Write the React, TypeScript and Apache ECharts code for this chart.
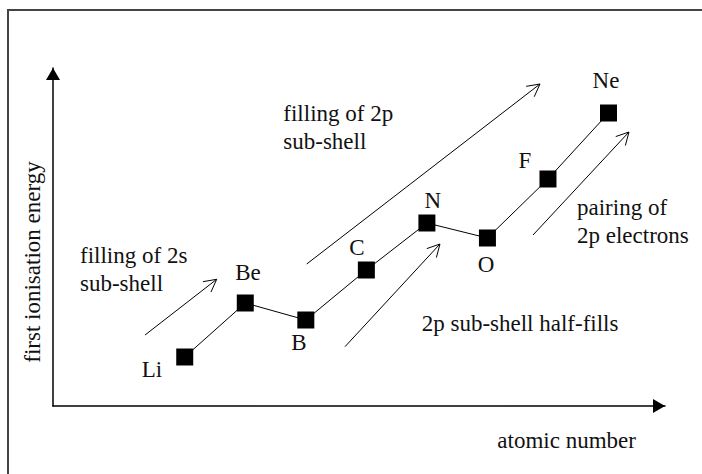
import React, { useEffect, useRef } from "react";
import * as echarts from "echarts";

// Data (atomic number vs. relative first ionisation energy, arbitrary units)
const elements = ["Li", "Be", "B", "C", "N", "O", "F", "Ne"];
const atomicNumbers = [3, 4, 5, 6, 7, 8, 9, 10];
const energyValues = [49, 103, 86, 136, 183, 168, 227, 293];

// Annotation arrows in data coordinates
const arrowStartX = [2.344, 5.015, 5.647, 8.753];
const arrowStartY = [71, 142, 59.3, 171];
const arrowEndX = [3.528, 8.868, 7.216, 10.338];
const arrowEndY = [126.7, 322, 162, 274];

// Label placement (pixel offsets from point)
const labelOffsets = [
  [-32.7, 12],
  [2.7, -31],
  [-7, 22],
  [-9.4, -22.4],
  [6, -22.7],
  [-1.4, 26.3],
  [-23, -18.4],
  [-2.5, -32.4],
];

const FONT = "Liberation Serif";
const FS = 23;

export default function App() {
  const ref = useRef<HTMLDivElement>(null);

  useEffect(() => {
    if (!ref.current) return;
    const chart = echarts.init(ref.current, undefined, { renderer: "svg" });

    const axisLine = {
      show: true,
      symbol: ["none", "triangle"],
      symbolSize: [14, 12],
      symbolOffset: [0, -6],
      lineStyle: { color: "#000", width: 1.5 },
    };

    const textEl = (text: string, x: number, y: number, extra: any = {}) => ({
      type: "text",
      x,
      y,
      silent: true,
      ...extra,
      style: {
        legacy: false,
        text,
        fill: "#111",
        font: `${FS}px "${FONT}", serif`,
        fontFamily: FONT,
        fontSize: FS,
        align: "left",
        verticalAlign: "middle",
        ...(extra.style || {}),
      },
    });

    const baseOption: any = {
      animation: false,
      backgroundColor: "#fff",
      grid: { left: 53, top: 68, right: 37, bottom: 68, containLabel: false },
      xAxis: {
        type: "value",
        min: 0.824,
        max: 10.933,
        axisLine,
        axisTick: { show: false },
        axisLabel: { show: false },
        splitLine: { show: false },
      },
      yAxis: {
        type: "value",
        min: 0,
        max: 338,
        axisLine,
        axisTick: { show: false },
        axisLabel: { show: false },
        splitLine: { show: false },
      },
      series: [
        {
          type: "line",
          data: atomicNumbers.map((z, i) => ({
            value: [z, energyValues[i]],
            name: elements[i],
            label: {
              show: true,
              position: "inside",
              offset: labelOffsets[i],
              formatter: elements[i],
              color: "#111",
              fontFamily: FONT,
              fontSize: FS,
              align: "center",
              verticalAlign: "middle",
            },
          })),
          symbol: "rect",
          symbolSize: 17,
          showSymbol: true,
          itemStyle: { color: "#000" },
          lineStyle: { color: "#000", width: 1 },
          z: 3,
        },
      ],
    };
    chart.setOption(baseOption);

    const graphics: any[] = [];
    graphics.push({
      type: "rect",
      shape: { x: 8, y: 10, width: 800, height: 600 },
      style: { fill: "none", stroke: "#444", lineWidth: 2 },
      silent: true,
    });

    const L = 14;
    const th = (28 * Math.PI) / 180;
    for (let i = 0; i < arrowStartX.length; i++) {
      const p0 = chart.convertToPixel({ gridIndex: 0 }, [arrowStartX[i], arrowStartY[i]]) as number[];
      const p1 = chart.convertToPixel({ gridIndex: 0 }, [arrowEndX[i], arrowEndY[i]]) as number[];
      const dx = p1[0] - p0[0];
      const dy = p1[1] - p0[1];
      const len = Math.sqrt(dx * dx + dy * dy);
      const ux = dx / len;
      const uy = dy / len;
      const rot = (a: number) => [ux * Math.cos(a) - uy * Math.sin(a), ux * Math.sin(a) + uy * Math.cos(a)];
      const r1 = rot(th);
      const r2 = rot(-th);
      graphics.push({
        type: "line",
        silent: true,
        shape: { x1: p0[0], y1: p0[1], x2: p1[0], y2: p1[1] },
        style: { stroke: "#000", lineWidth: 1 },
      });
      graphics.push({
        type: "polyline",
        silent: true,
        shape: {
          points: [
            [p1[0] - r1[0] * L, p1[1] - r1[1] * L],
            [p1[0], p1[1]],
            [p1[0] - r2[0] * L, p1[1] - r2[1] * L],
          ],
        },
        style: { stroke: "#000", lineWidth: 1, fill: "none" },
      });
    }

    graphics.push(textEl("filling of 2s", 80, 255.3));
    graphics.push(textEl("sub-shell", 80, 283.3));
    graphics.push(textEl("filling of 2p", 283.3, 113.3));
    graphics.push(textEl("sub-shell", 283.3, 141.3));
    graphics.push(textEl("pairing of", 577, 207.3));
    graphics.push(textEl("2p electrons", 577, 235.6));
    graphics.push(textEl("2p sub-shell half-fills", 421.7, 323.3));
    graphics.push(textEl("atomic number", 497.3, 440.6));
    graphics.push(
      textEl("first ionisation energy", 32, 262, {
        rotation: Math.PI / 2,
        style: { align: "center" },
      })
    );

    chart.setOption({ graphic: { elements: graphics } });

    return () => chart.dispose();
  }, []);

  return (
    <div
      ref={ref}
      style={{ position: "fixed", left: 0, top: 0, width: 702, height: 474 }}
    />
  );
}
